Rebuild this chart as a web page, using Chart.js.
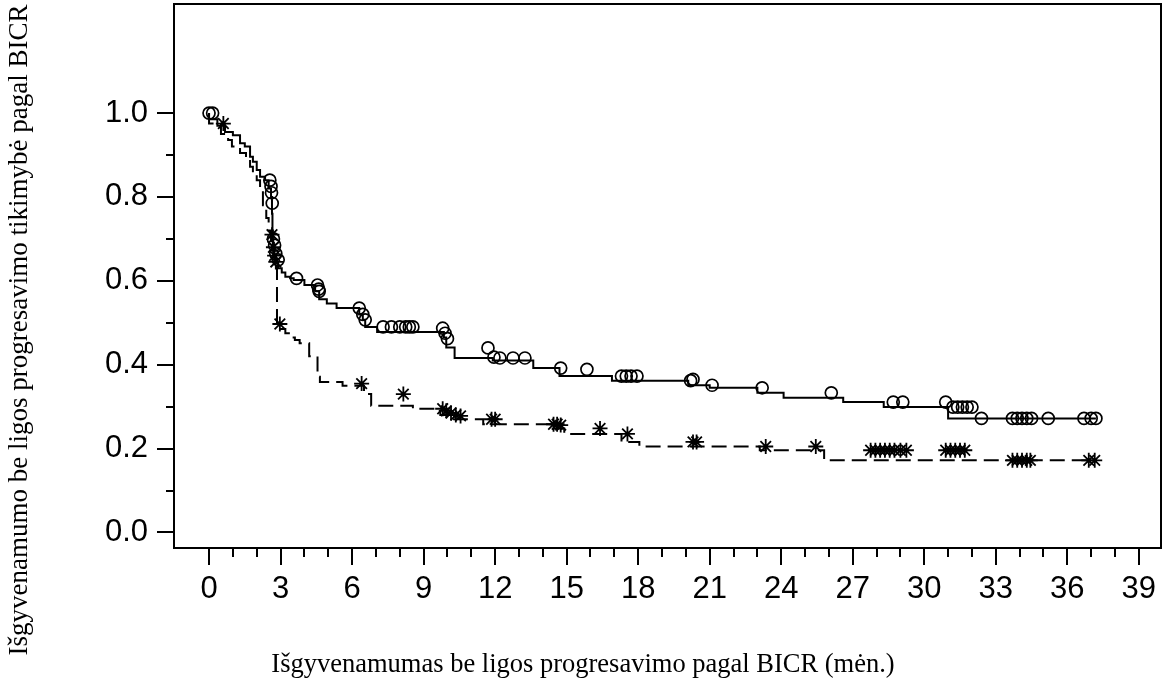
<!DOCTYPE html>
<html>
<head>
<meta charset="utf-8">
<script src="https://cdn.jsdelivr.net/npm/chart.js@4.4.1/dist/chart.umd.min.js"></script>
<style>
  html, body { margin: 0; padding: 0; background: #fff; }
  #wrap { width: 1166px; height: 684px; position: relative; }
</style>
</head>
<body>
<div id="wrap"><canvas id="c" width="1166" height="684"></canvas></div>
<script>
// ---- Data ----
const xTickValues = [0,1,2,3,4,5,6,7,8,9,10,11,12,13,14,15,16,17,18,19,20,21,22,23,24,25,26,27,28,29,30,31,32,33,34,35,36,37,38,39];
const xLabelValues = [0,3,6,9,12,15,18,21,24,27,30,33,36,39];
const yTickValues = [0,0.1,0.2,0.3,0.4,0.5,0.6,0.7,0.8,0.9,1.0];
const yLabelValues = [0,0.2,0.4,0.6,0.8,1.0];

const xTitle = 'Išgyvenamumas be ligos progresavimo pagal BICR (mėn.)';
const yTitle = 'Išgyvenamumo be ligos progresavimo tikimybė pagal BICR';

// Solid curve (circles): step times and survival after each step
const solidTimes = [0, 0.35, 0.67, 1.0, 1.3, 1.5, 1.72, 1.84, 2.0, 2.14, 2.35, 2.5, 2.6, 2.64, 2.66, 2.68, 2.72, 2.8, 2.9, 3.05, 3.2, 3.4, 3.55, 4.0, 4.45, 4.62, 4.94, 5.35, 6.3, 6.45, 6.55, 7.05, 9.85, 9.95, 10.3, 11.9, 13.6, 14.7, 16.9, 20.1, 21.0, 23.0, 24.1, 26.6, 28.3, 31.0, 32.3, 37.2];
const solidSurv  = [1.0, 0.985, 0.97, 0.955, 0.947, 0.928, 0.92, 0.896, 0.884, 0.864, 0.848, 0.84, 0.82, 0.80, 0.76, 0.72, 0.69, 0.66, 0.645, 0.63, 0.62, 0.61, 0.606, 0.602, 0.59, 0.575, 0.556, 0.546, 0.535, 0.52, 0.507, 0.49, 0.478, 0.465, 0.441, 0.416, 0.41, 0.392, 0.373, 0.362, 0.351, 0.345, 0.333, 0.321, 0.311, 0.299, 0.272, 0.272];

// Solid curve censor marks (circles)
const solidCensorT = [0.0, 0.15, 2.55, 2.6, 2.62, 2.65, 2.7, 2.75, 2.8, 2.9, 3.67, 4.55, 4.6, 4.62, 6.3, 6.45, 6.55, 7.3, 7.65, 8.0, 8.25, 8.4, 8.55, 9.8, 9.9, 10.0, 11.7, 11.95, 12.2, 12.75, 13.25, 14.75, 15.85, 17.3, 17.5, 17.7, 17.95, 20.2, 20.3, 21.1, 23.2, 26.1, 28.7, 29.1, 30.9, 31.2, 31.4, 31.6, 31.8, 32.0, 32.4, 33.7, 33.9, 34.1, 34.3, 34.5, 35.2, 36.7, 37.0, 37.2];
const solidCensorS = [1.0, 1.0, 0.84, 0.825, 0.81, 0.785, 0.70, 0.685, 0.665, 0.65, 0.606, 0.59, 0.58, 0.575, 0.535, 0.52, 0.507, 0.49, 0.49, 0.49, 0.49, 0.49, 0.49, 0.487, 0.475, 0.462, 0.44, 0.418, 0.416, 0.416, 0.416, 0.392, 0.389, 0.373, 0.373, 0.373, 0.373, 0.362, 0.365, 0.351, 0.345, 0.333, 0.311, 0.311, 0.311, 0.299, 0.299, 0.299, 0.299, 0.299, 0.272, 0.272, 0.272, 0.272, 0.272, 0.272, 0.272, 0.272, 0.272, 0.272];

// Dashed curve (asterisks): step times and survival after each step
const dashTimes = [0, 0.5, 0.8, 0.96, 1.3, 1.55, 1.72, 1.84, 2.0, 2.14, 2.26, 2.4, 2.5, 2.6, 2.7, 2.78, 2.85, 2.88, 3.2, 3.4, 3.6, 3.8, 4.2, 4.55, 4.62, 4.65, 5.6, 6.5, 6.8, 8.55, 9.7, 10.2, 11.5, 14.3, 14.9, 17.3, 18.05, 23.1, 25.8, 32.6, 37.2];
const dashSurv  = [1.0, 0.975, 0.95, 0.936, 0.92, 0.905, 0.89, 0.872, 0.855, 0.84, 0.82, 0.78, 0.75, 0.72, 0.69, 0.66, 0.64, 0.50, 0.485, 0.475, 0.465, 0.459, 0.451, 0.42, 0.38, 0.371, 0.359, 0.35, 0.33, 0.302, 0.295, 0.28, 0.27, 0.258, 0.248, 0.235, 0.216, 0.205, 0.196, 0.172, 0.172];

// Dashed curve censor marks (asterisks)
const dashCensorT = [0.6, 2.64, 2.7, 2.75, 2.8, 2.97, 6.4, 8.15, 9.8, 9.95, 10.15, 10.35, 10.55, 11.85, 12.0, 14.45, 14.6, 14.75, 16.4, 17.55, 20.3, 20.45, 23.35, 25.45, 27.75, 27.95, 28.15, 28.35, 28.55, 28.75, 29.0, 29.25, 30.9, 31.1, 31.3, 31.5, 31.7, 33.7, 33.9, 34.1, 34.3, 34.45, 36.9, 37.15];
const dashCensorS = [0.975, 0.71, 0.68, 0.66, 0.645, 0.497, 0.355, 0.33, 0.295, 0.29, 0.285, 0.28, 0.278, 0.27, 0.27, 0.258, 0.258, 0.256, 0.248, 0.235, 0.216, 0.216, 0.205, 0.205, 0.196, 0.196, 0.196, 0.196, 0.196, 0.196, 0.196, 0.196, 0.196, 0.196, 0.196, 0.196, 0.196, 0.172, 0.172, 0.172, 0.172, 0.172, 0.172, 0.172];

const pts = (xs, ys) => xs.map((x, i) => ({ x: x, y: ys[i] }));

// ---- Plugin: frame, tick marks, axis titles ----
const framePlugin = {
  id: 'frame',
  afterDraw(chart) {
    const ctx = chart.ctx;
    const a = chart.chartArea;
    const xs = chart.scales.x, ys = chart.scales.y;
    ctx.save();
    ctx.strokeStyle = '#000';
    ctx.lineWidth = 2;
    ctx.strokeRect(a.left, a.top, a.right - a.left, a.bottom - a.top);
    ctx.beginPath();
    xTickValues.forEach(v => {
      const px = Math.round(xs.getPixelForValue(v));
      const len = (v % 3 === 0) ? 17 : 9;
      ctx.moveTo(px, a.bottom);
      ctx.lineTo(px, a.bottom + len);
    });
    yTickValues.forEach(v => {
      const py = Math.round(ys.getPixelForValue(v));
      const major = Math.round(v * 10) % 2 === 0;
      const len = major ? 17 : 8;
      ctx.moveTo(a.left, py);
      ctx.lineTo(a.left - len, py);
    });
    ctx.stroke();
    // axis titles
    ctx.fillStyle = '#000';
    ctx.textAlign = 'center';
    ctx.textBaseline = 'middle';
    ctx.font = "26.5px 'Liberation Serif', 'Times New Roman', serif";
    ctx.fillText(xTitle, chart.width / 2, 665);
    ctx.font = "27px 'Liberation Serif', 'Times New Roman', serif";
    ctx.translate(20, 330);
    ctx.rotate(-Math.PI / 2);
    ctx.fillText(yTitle, 0, 0);
    ctx.restore();
  }
};

Chart.defaults.color = '#000';
Chart.defaults.font.family = "'Liberation Sans', Arial, sans-serif";

const zeroPad = s => { s.paddingTop = 0; s.paddingBottom = 0; s.paddingLeft = 0; s.paddingRight = 0; };

new Chart(document.getElementById('c'), {
  type: 'scatter',
  data: {
    datasets: [
      { type: 'line', data: pts(solidTimes, solidSurv), stepped: 'after', borderColor: '#000', borderWidth: 2, pointRadius: 0, fill: false },
      { type: 'line', data: pts(dashTimes, dashSurv), stepped: 'after', borderColor: '#000', borderWidth: 2, borderDash: [15, 7], pointRadius: 0, fill: false },
      { data: pts(solidCensorT, solidCensorS), pointStyle: 'circle', pointRadius: 6, borderColor: '#000', borderWidth: 1.7, backgroundColor: 'rgba(0,0,0,0)' },
      { data: pts(dashCensorT, dashCensorS), pointStyle: 'star', pointRadius: 7.5, borderColor: '#000', borderWidth: 1.8, backgroundColor: 'rgba(0,0,0,0)' }
    ]
  },
  options: {
    responsive: false,
    animation: false,
    devicePixelRatio: 1,
    layout: { autoPadding: false, padding: { top: 4, right: 5, left: 0, bottom: 0 } },
    plugins: { legend: { display: false }, tooltip: { enabled: false } },
    scales: {
      x: {
        type: 'linear', min: -1.47, max: 39.93,
        afterBuildTicks: s => { s.ticks = xTickValues.map(v => ({ value: v })); },
        afterFit: s => { s.height = 136; zeroPad(s); },
        grid: { display: false, drawTicks: false },
        border: { display: false },
        ticks: {
          autoSkip: false, maxRotation: 0, padding: 23,
          font: { size: 31 },
          callback: v => xLabelValues.includes(v) ? String(v) : ''
        }
      },
      y: {
        type: 'linear', min: -0.037, max: 1.26,
        afterBuildTicks: s => { s.ticks = yTickValues.map(v => ({ value: v })); },
        afterFit: s => { s.width = 174; zeroPad(s); },
        grid: { display: false, drawTicks: false },
        border: { display: false },
        ticks: {
          autoSkip: false, padding: 26,
          font: { size: 31 },
          callback: v => yLabelValues.some(l => Math.abs(l - v) < 1e-9) ? v.toFixed(1) : ''
        }
      }
    }
  },
  plugins: [framePlugin]
});
</script>
</body>
</html>
